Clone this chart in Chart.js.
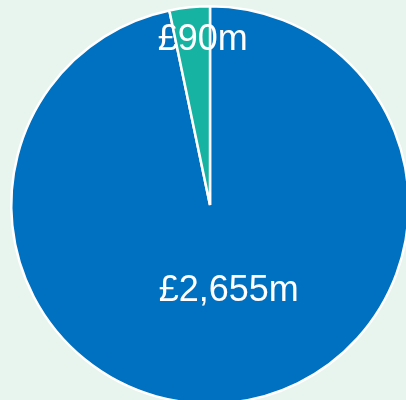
<!DOCTYPE html>
<html>
<head>
<meta charset="utf-8">
<script src="https://cdn.jsdelivr.net/npm/chart.js@4"></script>
<style>
  html, body { margin: 0; padding: 0; background: #e8f4ee; overflow: hidden; }
  #wrap { position: absolute; left: 0; top: 0; width: 420px; height: 410px; }
</style>
</head>
<body>
<div id="wrap"><canvas id="pie"></canvas></div>
<script>
let labels = ['Blue', 'Teal'];
let values = [2655, 90];
let valueLabels = ['£2,655m', '£90m'];
let colours = ['#0070c0', '#16b3a3'];

// draws the money labels on top of the slices
const sliceLabels = {
    id: 'sliceLabels',
    afterDatasetsDraw(chart) {
        let ctx = chart.ctx;
        let meta = chart.getDatasetMeta(0);
        let fractions = [0.43, 0.84];
        ctx.save();
        ctx.fillStyle = '#ffffff';
        ctx.font = '36px "Liberation Sans", Arial, sans-serif';
        ctx.textAlign = 'center';
        ctx.textBaseline = 'middle';
        meta.data.forEach(function (arc, i) {
            let mid = (arc.startAngle + arc.endAngle) / 2;
            let r = arc.outerRadius * fractions[i];
            let x = arc.x + Math.cos(mid) * r + 10;
            let y = arc.y + Math.sin(mid) * r + 1;
            ctx.fillText(valueLabels[i], x, y);
        });
        ctx.restore();
    }
};

new Chart(document.getElementById('pie').getContext('2d'), {
    type: 'pie',
    data: {
        labels: labels,
        datasets: [{
            data: values,
            backgroundColor: colours,
            borderColor: '#ffffff',
            borderWidth: 2.5
        }]
    },
    options: {
        responsive: true,
        maintainAspectRatio: false,
        animation: false,
        layout: { padding: 5 },
        plugins: {
            legend: { display: false },
            tooltip: { enabled: false }
        }
    },
    plugins: [sliceLabels]
});
</script>
</body>
</html>
